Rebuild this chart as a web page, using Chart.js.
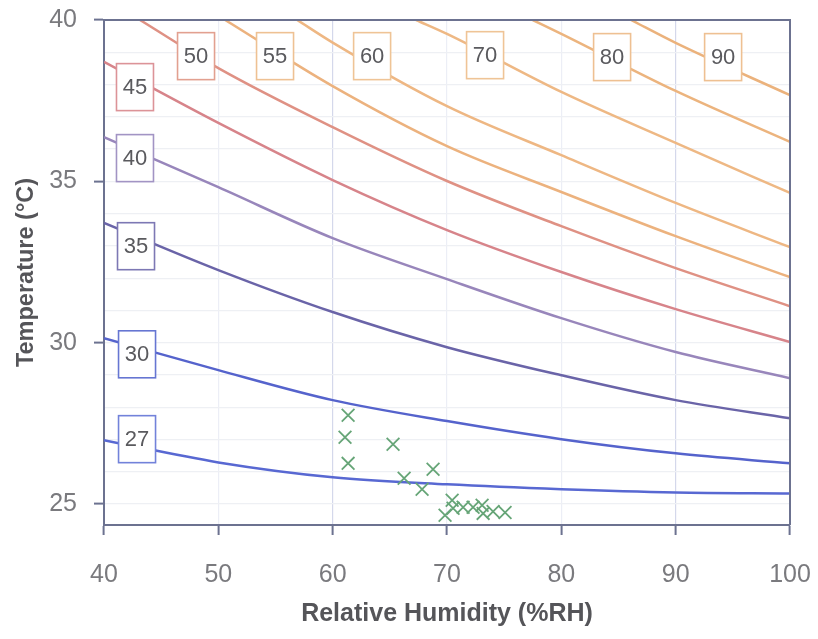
<!DOCTYPE html>
<html><head><meta charset="utf-8">
<script src="https://cdn.jsdelivr.net/npm/chart.js@4.4.1/dist/chart.umd.min.js"></script>
<style>html,body{margin:0;padding:0;background:#fff;}#wrap{width:818px;height:639px;}</style>
</head><body><div id="wrap"><canvas id="c" width="818" height="639"></canvas></div>
<script>
// ---- data ----
const rhTicks = [40, 50, 60, 70, 80, 90, 100];
const tempTicks = [25, 30, 35, 40];
const levels = [27, 30, 35, 40, 45, 50, 55, 60, 70, 80, 90];

const rhGrid = [40, 50, 60, 70, 80, 90, 100];
const t27 = [26.98, 26.29, 25.83, 25.61, 25.46, 25.36, 25.33];
const t30 = [30.14, 29.15, 28.22, 27.57, 27.01, 26.57, 26.26];
const t35 = [33.71, 32.25, 30.95, 29.86, 28.99, 28.22, 27.66];
const t40 = [36.37, 34.82, 33.24, 31.97, 30.76, 29.71, 28.90];
const t45 = [38.70, 36.81, 35.04, 33.49, 32.19, 31.04, 30.02];
const rh50 = [43.15, 50, 60, 70, 80, 90, 100];
const t50 = [40, 38.51, 36.68, 35.01, 33.61, 32.31, 31.13];
const rh55 = [50.6, 60, 70, 80, 90, 100];
const t55 = [40, 37.95, 36.09, 34.67, 33.30, 32.03];
const rh60 = [56.9, 60, 70, 80, 90, 100];
const t60 = [40, 39.3, 37.33, 35.81, 34.33, 32.96];
const rh70 = [67.3, 70, 80, 90, 100];
const t70 = [40, 39.57, 37.77, 36.19, 34.64];
const rh80 = [77.5, 80, 90, 100];
const t80 = [40, 39.57, 37.80, 36.22];
const rh90 = [86.1, 90, 100];
const t90 = [40, 39.29, 37.67];

// label anchor points (data space)
const labelRH = [42.89, 42.89, 42.8, 42.71, 42.71, 48.05, 54.96, 63.45, 73.33, 84.44, 94.15];
const labelT  = [27.01, 29.64, 32.99, 35.72, 37.92, 38.88, 38.88, 38.88, 38.91, 38.85, 38.85];

// measured observations
const obsRH = [61.35, 61.08, 61.35, 65.28, 66.25, 68.78, 67.82, 70.45, 69.83, 70.53, 71.41, 72.28, 73.07, 73.16, 74.03, 75.08];
const obsT  = [27.75, 27.07, 26.26, 26.85, 25.80, 26.08, 25.46, 25.12, 24.65, 24.87, 24.90, 24.90, 24.96, 24.71, 24.77, 24.74];

// ---- styles ----
const lineColors = ['#5868d2', '#5563cc', '#6a64a8', '#9886bb', '#d7848a', '#df9184', '#ecb27e', '#eeb783', '#eeb884', '#ecb47e', '#ebb27c'];
const boxColors  = ['#7282da', '#6676d2', '#7d78b4', '#a294c4', '#dc9398', '#e2a090', '#eec193', '#efc496', '#efc496', '#eec092', '#eec092'];

const curveX = [rhGrid, rhGrid, rhGrid, rhGrid, rhGrid, rh50, rh55, rh60, rh70, rh80, rh90];
const curveY = [t27, t30, t35, t40, t45, t50, t55, t60, t70, t80, t90];

const datasets = levels.map((lv, i) => ({
  label: 'HI ' + lv,
  data: curveX[i].map((x, j) => ({x: x, y: curveY[i][j]})),
  borderColor: lineColors[i],
  borderWidth: 2.5,
  pointRadius: 0,
  fill: false,
  cubicInterpolationMode: 'monotone',
  order: 2
}));
datasets.push({
  label: 'Measured',
  type: 'scatter',
  data: obsRH.map((x, j) => ({x: x, y: obsT[j]})),
  pointStyle: 'crossRot',
  pointRadius: 9,
  borderColor: '#66a577',
  borderWidth: 1.8,
  showLine: false,
  order: 0
});

const axisColor = '#6c7290';

const framePlugin = {
  id: 'frame',
  afterDraw(chart) {
    const {ctx, chartArea: a} = chart;
    ctx.save();
    ctx.strokeStyle = axisColor;
    ctx.lineWidth = 2;
    ctx.beginPath();
    ctx.moveTo(a.left, a.top);
    ctx.lineTo(a.right, a.top);
    ctx.lineTo(a.right, a.bottom);
    ctx.stroke();
    ctx.restore();
  }
};

const labelPlugin = {
  id: 'levelLabels',
  afterDatasetsDraw(chart) {
    const {ctx, scales} = chart;
    ctx.save();
    const w = 37, h = 47;
    levels.forEach((lv, i) => {
      const cx = scales.x.getPixelForValue(labelRH[i]);
      const cy = scales.y.getPixelForValue(labelT[i]);
      ctx.fillStyle = '#ffffff';
      ctx.fillRect(cx - w / 2, cy - h / 2, w, h);
      ctx.strokeStyle = boxColors[i];
      ctx.lineWidth = 1.6;
      ctx.strokeRect(cx - w / 2, cy - h / 2, w, h);
      ctx.fillStyle = '#5a5a5e';
      ctx.font = '22px "Liberation Sans", Arial, sans-serif';
      ctx.textAlign = 'center';
      ctx.textBaseline = 'middle';
      ctx.fillText(String(lv), cx, cy + 1);
    });
    ctx.restore();
  }
};

new Chart(document.getElementById('c'), {
  type: 'line',
  data: {datasets: datasets},
  options: {
    responsive: false,
    animation: false,
    layout: {padding: {top: 20, right: 28, left: 0, bottom: 0}},
    plugins: {legend: {display: false}, tooltip: {enabled: false}},
    scales: {
      x: {
        type: 'linear', min: 40, max: 100,
        afterBuildTicks: s => { s.ticks = rhTicks.map(v => ({value: v})); },
        afterFit: s => { s.height = 114; s.paddingLeft = 0; s.paddingRight = 0; },
        grid: {
          color: c => (c.tick && (c.tick.value === 60 || c.tick.value === 90)) ? '#d4d8eb' : '#eceef6',
          lineWidth: 1.2, tickLength: 10, tickColor: axisColor, tickWidth: 2
        },
        border: {color: axisColor, width: 2},
        ticks: {font: {family: 'Liberation Sans', size: 25}, color: '#7a7a7e', padding: 25, maxRotation: 0, autoSkip: false},
        title: {display: true, text: 'Relative Humidity (%RH)', color: '#555559',
                font: {family: 'Liberation Sans', size: 25, weight: 'bold'}, padding: {top: 0, bottom: 10}}
      },
      y: {
        type: 'linear', min: 24.35, max: 40,
        afterBuildTicks: s => { const t = []; for (let v = 25; v <= 40; v++) t.push({value: v}); s.ticks = t; },
        afterFit: s => { s.width = 104; s.paddingTop = 0; s.paddingBottom = 0; },
        grid: {
          color: '#eef0f4', lineWidth: 1.2, tickLength: 10, tickWidth: 2,
          tickColor: c => (c.tick && tempTicks.includes(c.tick.value)) ? axisColor : 'rgba(0,0,0,0)'
        },
        border: {color: axisColor, width: 2},
        ticks: {
          font: {family: 'Liberation Sans', size: 25}, color: '#7a7a7e', padding: 17, autoSkip: false,
          callback: v => tempTicks.includes(v) ? String(v) : ''
        },
        title: {display: true, text: 'Temperature (°C)', color: '#555559',
                font: {family: 'Liberation Sans', size: 23.5, weight: 'bold'}, padding: {top: 12, bottom: 0}}
      }
    }
  },
  plugins: [framePlugin, labelPlugin]
});
</script>
</body></html>
